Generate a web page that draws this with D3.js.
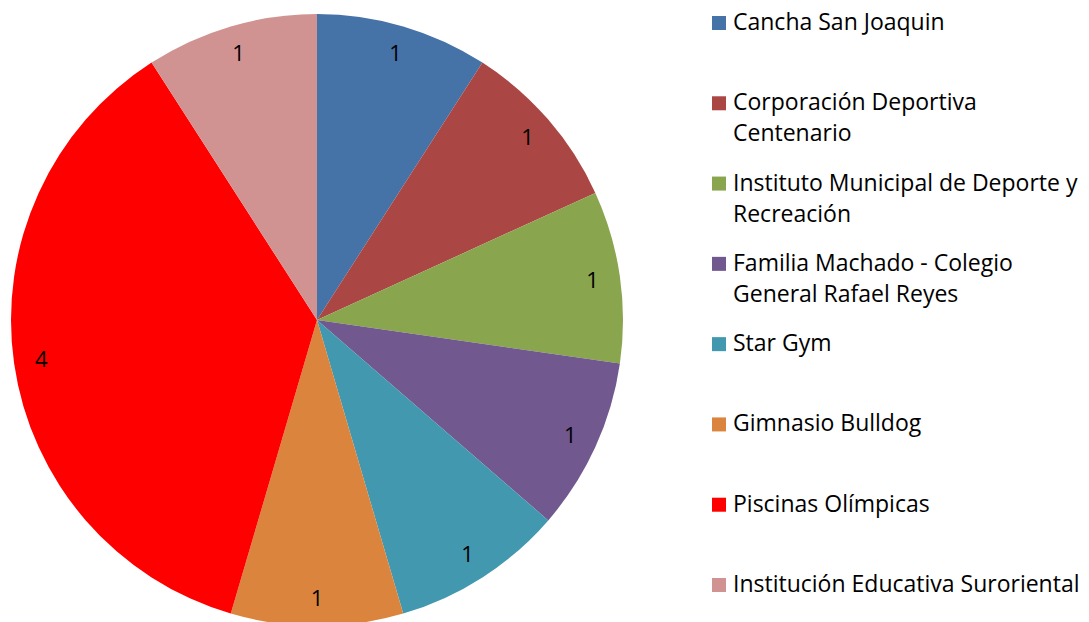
<!DOCTYPE html>
<html>
<head>
<meta charset="utf-8">
<script src="https://cdn.jsdelivr.net/npm/d3@7"></script>
<style>
  html, body { margin: 0; padding: 0; background: #fff; }
  svg { display: block; }
</style>
</head>
<body>
<div id="chart"></div>
<script>
const width = 1089
const height = 622

// data
const categories = [
  "Cancha San Joaquin",
  "Corporación Deportiva\nCentenario",
  "Instituto Municipal de Deporte y\nRecreación",
  "Familia Machado - Colegio\nGeneral Rafael Reyes",
  "Star Gym",
  "Gimnasio Bulldog",
  "Piscinas Olímpicas",
  "Institución Educativa Suroriental"
]
const values = [1, 1, 1, 1, 1, 1, 4, 1]
const colors = ["#4572a7", "#aa4643", "#89a54e", "#71588f", "#4198af", "#db843d", "#ff0000", "#d09392"]

const rows = categories.map((c, i) => ({name: c, value: values[i], color: colors[i]}))

const font = "'Open Sans', sans-serif"

let svg = d3.select("#chart")
  .append("svg")
  .attr("width", width)
  .attr("height", height)

const cx = 317, cy = 320, radius = 306

let pie = d3.pie()
  .value(d => d.value)
  .sort(null)

let arc = d3.arc()
  .innerRadius(0)
  .outerRadius(radius)

let labelArc = d3.arc()
  .innerRadius(radius * 0.91)
  .outerRadius(radius * 0.91)

let g = svg.append("g")
  .attr("transform", `translate(${cx},${cy})`)

let slices = pie(rows)

g.selectAll("path")
  .data(slices)
  .enter()
  .append("path")
  .attr("d", arc)
  .attr("fill", d => d.data.color)

g.selectAll("text")
  .data(slices)
  .enter()
  .append("text")
  .attr("transform", d => `translate(${labelArc.centroid(d)})`)
  .attr("text-anchor", "middle")
  .attr("dy", "0.35em")
  .style("font-family", font)
  .style("font-size", "22px")
  .attr("fill", "#000")
  .text(d => d.data.value)

//Legend
let legendY = d3.scaleLinear()
  .domain([0, categories.length - 1])
  .range([23, 585])

let legend = svg.append("g")
  .attr("id", "legend")

let item = legend.selectAll("g")
  .data(rows)
  .enter()
  .append("g")
  .attr("transform", (d, i) => `translate(712,${legendY(i)})`)

item.append("rect")
  .attr("x", 0)
  .attr("y", -7)
  .attr("width", 14)
  .attr("height", 14)
  .attr("fill", d => d.color)

item.append("text")
  .attr("x", 21)
  .attr("y", 7)
  .style("font-family", font)
  .style("font-size", "23px")
  .attr("fill", "#000")
  .selectAll("tspan")
  .data(d => d.name.split("\n"))
  .enter()
  .append("tspan")
  .attr("x", 21)
  .attr("dy", (d, i) => i === 0 ? 0 : 31)
  .text(d => d)
</script>
</body>
</html>
